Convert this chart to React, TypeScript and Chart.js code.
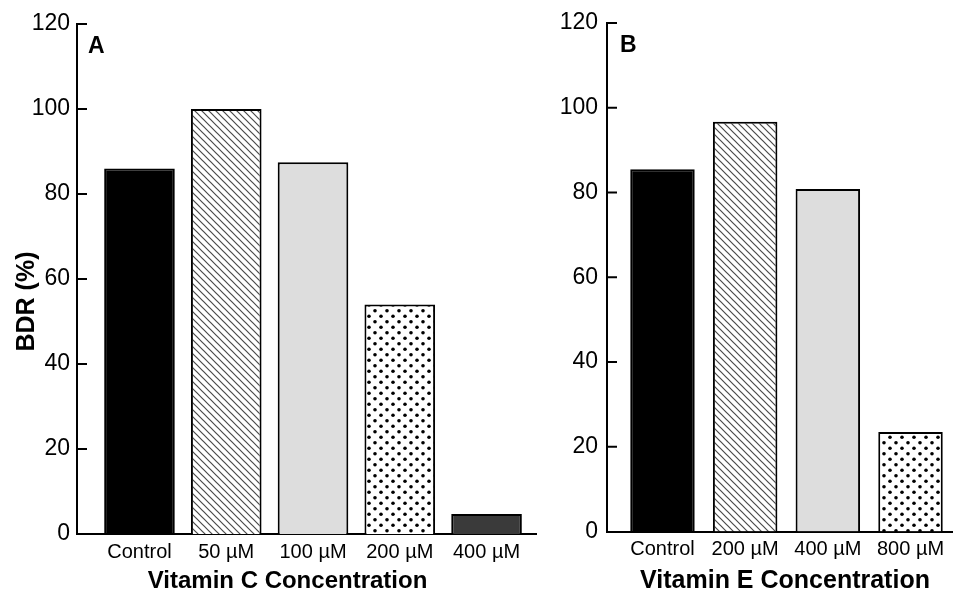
import React, { useEffect, useRef } from "react";
import { Chart, registerables } from "chart.js";

Chart.register(...registerables);

const FONT = '"Liberation Sans", Arial, Helvetica, sans-serif';

// Panel A data
const categoriesA = ["Control", "50 \u00B5M", "100 \u00B5M", "200 \u00B5M", "400 \u00B5M"];
const valuesA = [86, 100, 87.5, 54, 4.7];
const fillsA = ["black", "hatch", "light", "dots", "dark"];

// Panel B data
const categoriesB = ["Control", "200 \u00B5M", "400 \u00B5M", "800 \u00B5M"];
const valuesB = [85.5, 96.7, 80.8, 23.5];
const fillsB = ["black", "hatch", "light", "dots"];

// Shared y-axis ticks
const yTicks = [0, 20, 40, 60, 80, 100, 120];

function makeFill(ctx: CanvasRenderingContext2D, kind: string): any {
  if (kind === "black") return "#000000";
  if (kind === "light") return "#dddddd";
  if (kind === "dark") return "#3a3a3a";
  const c = document.createElement("canvas");
  if (kind === "hatch") {
    const s = 7;
    c.width = s;
    c.height = s;
    const g = c.getContext("2d")!;
    g.fillStyle = "#ffffff";
    g.fillRect(0, 0, s, s);
    g.strokeStyle = "#4a4a4a";
    g.lineWidth = 1.2;
    g.beginPath();
    g.moveTo(-1, -1);
    g.lineTo(s + 1, s + 1);
    g.moveTo(-1, s - 1);
    g.lineTo(1, s + 1);
    g.moveTo(s - 1, -1);
    g.lineTo(s + 1, 1);
    g.stroke();
  } else {
    c.width = 12;
    c.height = 11;
    const g = c.getContext("2d")!;
    g.fillStyle = "#ffffff";
    g.fillRect(0, 0, 12, 11);
    g.fillStyle = "#000000";
    g.beginPath();
    g.arc(3, 2.75, 1.8, 0, Math.PI * 2);
    g.fill();
    g.beginPath();
    g.arc(9, 8.25, 1.8, 0, Math.PI * 2);
    g.fill();
  }
  return ctx.createPattern(c, "repeat");
}

const panelDecor = {
  id: "panelDecor",
  afterDraw(chart: any, _args: any, opts: any) {
    const ctx = chart.ctx as CanvasRenderingContext2D;
    const y = chart.scales.y;
    const area = chart.chartArea;
    ctx.save();
    ctx.strokeStyle = "#000";
    ctx.lineWidth = 2;
    y.ticks.forEach((t: any) => {
      if (t.value === 0) return;
      const py = y.getPixelForValue(t.value);
      ctx.beginPath();
      ctx.moveTo(area.left, py);
      ctx.lineTo(area.left + opts.tickLen, py);
      ctx.stroke();
    });
    ctx.fillStyle = "#000";
    ctx.textBaseline = "alphabetic";
    ctx.textAlign = "left";
    ctx.font = `bold ${opts.letterSize}px ${FONT}`;
    ctx.fillText(opts.letter, area.left + opts.letterDx, area.top + opts.letterDy);
    ctx.textAlign = "center";
    ctx.font = `bold ${opts.xTitleSize}px ${FONT}`;
    ctx.fillText(opts.xTitle, opts.xTitleX, opts.xTitleY);
    if (opts.yTitle) {
      ctx.font = `bold ${opts.yTitleSize}px ${FONT}`;
      ctx.translate(opts.yTitleX, opts.yTitleY);
      ctx.rotate(-Math.PI / 2);
      ctx.fillText(opts.yTitle, 0, 0);
    }
    ctx.restore();
  },
};

type PanelProps = {
  categories: string[];
  values: number[];
  fills: string[];
  width: number;
  xMin: number;
  xMax: number;
  barPct: number;
  yWidth: number;
  top: number;
  xHeight: number;
  right: number;
  labelPad: number;
  decor: any;
};

function Panel(p: PanelProps) {
  const ref = useRef<HTMLCanvasElement | null>(null);
  useEffect(() => {
    const canvas = ref.current!;
    const ctx = canvas.getContext("2d")!;
    const chart = new Chart(ctx, {
      type: "bar",
      data: {
        datasets: [
          {
            data: p.values.map((v, i) => ({ x: i, y: v })),
            backgroundColor: p.fills.map((f) => makeFill(ctx, f)),
            borderColor: "#000",
            borderWidth: 2,
            categoryPercentage: 1,
            barPercentage: p.barPct,
          } as any,
        ],
      },
      options: {
        animation: false,
        responsive: false,
        devicePixelRatio: 1,
        layout: { padding: { left: 0, right: p.right, top: p.top, bottom: 0 } },
        plugins: {
          legend: { display: false },
          tooltip: { enabled: false },
          panelDecor: p.decor,
        } as any,
        scales: {
          x: {
            type: "linear",
            min: p.xMin,
            max: p.xMax,
            offset: false,
            grid: { display: false, offset: false, drawTicks: false },
            border: { display: true, color: "#000", width: 2 },
            afterBuildTicks: (s: any) => {
              s.ticks = p.categories.map((_, i) => ({ value: i }));
            },
            afterFit: (s: any) => {
              s.height = p.xHeight;
            },
            ticks: {
              autoSkip: false,
              maxRotation: 0,
              padding: 6,
              color: "#000",
              font: { family: FONT, size: 20 },
              callback: (v: any) => p.categories[v],
            },
          },
          y: {
            min: 0,
            max: 120,
            grid: { display: false, drawTicks: false },
            border: { display: true, color: "#000", width: 2 },
            afterBuildTicks: (s: any) => {
              s.ticks = yTicks.map((v) => ({ value: v }));
            },
            afterFit: (s: any) => {
              s.width = p.yWidth;
            },
            ticks: {
              padding: p.labelPad,
              color: "#000",
              font: { family: FONT, size: 23 },
              callback: (v: any) => String(v),
            },
          },
        },
      } as any,
      plugins: [panelDecor as any],
    });
    return () => chart.destroy();
  }, []);
  return <canvas ref={ref} width={p.width} height={593} style={{ display: "block" }} />;
}

export default function App() {
  return (
    <div style={{ position: "absolute", left: 0, top: 0, width: 953, height: 593, background: "#fff", display: "flex" }}>
      <Panel
        categories={categoriesA}
        values={valuesA}
        fills={fillsA}
        width={545}
        xMin={-0.72}
        xMax={4.57}
        barPct={0.814}
        yWidth={77}
        top={24}
        xHeight={59}
        right={9}
        labelPad={7}
        decor={{
          tickLen: 10,
          letter: "A",
          letterSize: 23,
          letterDx: 11,
          letterDy: 29,
          xTitle: "Vitamin C Concentration",
          xTitleSize: 24,
          xTitleX: 287.5,
          xTitleY: 588,
          yTitle: "BDR (%)",
          yTitleSize: 25,
          yTitleX: 34,
          yTitleY: 301.5,
        }}
      />
      <Panel
        categories={categoriesB}
        values={valuesB}
        fills={fillsB}
        width={408}
        xMin={-0.671}
        xMax={3.514}
        barPct={0.78}
        yWidth={62}
        top={23}
        xHeight={61.5}
        right={0}
        labelPad={9}
        decor={{
          tickLen: 10,
          letter: "B",
          letterSize: 23,
          letterDx: 13,
          letterDy: 29,
          xTitle: "Vitamin E Concentration",
          xTitleSize: 25,
          xTitleX: 240,
          xTitleY: 588,
          yTitle: "",
        }}
      />
    </div>
  );
}
